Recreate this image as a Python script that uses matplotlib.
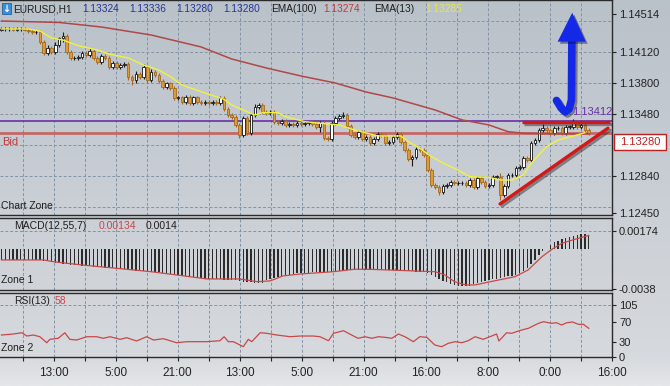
import numpy as np
import matplotlib.pyplot as plt
from matplotlib import patheffects as pe
from matplotlib.colors import LinearSegmentedColormap
from matplotlib.patches import Polygon, Rectangle

plt.rcParams['font.family'] = ['Liberation Sans', 'DejaVu Sans']

# ---- price data (EURUSD, H1) ----
first_open = 1.14356
closes = [
    1.14361, 1.14361, 1.14366, 1.14356, 1.14361, 1.14366, 1.14356, 1.14341, 1.14327, 1.14333,
    1.14230, 1.14112, 1.14164, 1.14123, 1.14195, 1.14263, 1.14292, 1.14126, 1.14061, 1.14064,
    1.14074, 1.14109, 1.14092, 1.14133, 1.14057, 1.14022, 1.14084, 1.14057, 1.13970, 1.14006,
    1.13967, 1.13988, 1.14001, 1.13867, 1.13832, 1.13892, 1.13867, 1.13964, 1.13832, 1.13912,
    1.13884, 1.13825, 1.13763, 1.13796, 1.13749, 1.13646, 1.13651, 1.13607, 1.13659, 1.13597,
    1.13651, 1.13607, 1.13591, 1.13607, 1.13597, 1.13607, 1.13591, 1.13643, 1.13529, 1.13469,
    1.13446, 1.13366, 1.13262, 1.13435, 1.13280, 1.13469, 1.13556, 1.13573, 1.13504, 1.13493,
    1.13504, 1.13400, 1.13383, 1.13407, 1.13366, 1.13376, 1.13366, 1.13390, 1.13376, 1.13383,
    1.13392, 1.13376, 1.13348, 1.13383, 1.13228, 1.13217, 1.13383, 1.13435, 1.13459, 1.13473,
    1.13355, 1.13262, 1.13244, 1.13296, 1.13217, 1.13238, 1.13176, 1.13221, 1.13272, 1.13262,
    1.13176, 1.13190, 1.13238, 1.13272, 1.13193, 1.13107, 1.13010, 1.13034, 1.13114, 1.13107,
    1.13055, 1.12899, 1.12744, 1.12726, 1.12674, 1.12733, 1.12744, 1.12775, 1.12761, 1.12761,
    1.12761, 1.12744, 1.12795, 1.12726, 1.12813, 1.12778, 1.12733, 1.12744, 1.12830, 1.12830,
    1.12640, 1.12733, 1.12847, 1.12847, 1.12923, 1.12930, 1.13020, 1.13003, 1.13176, 1.13210,
    1.13314, 1.13338, 1.13314, 1.13283, 1.13332, 1.13332, 1.13280, 1.13348, 1.13348, 1.13400,
    1.13348, 1.13366, 1.13314, 1.13280,
]
# wick lengths above / below the body, in pips
upper_wick = [
    2, 2, 2, 2, 2, 2, 2, 2, 2, 2, 2, 2, 3, 2, 3, 2, 4, 2, 2, 2,
    2, 2, 2, 3, 2, 2, 2, 2, 2, 2, 2, 2, 2, 2, 2, 3, 2, 3, 2, 3,
    2, 2, 2, 2, 2, 2, 2, 2, 2, 2, 2, 2, 2, 2, 2, 2, 2, 2, 2, 2,
    2, 2, 2, 2, 2, 2, 3, 2, 2, 2, 2, 2, 2, 2, 2, 2, 2, 2, 2, 2,
    2, 2, 2, 2, 2, 2, 2, 2, 2, 3, 2, 2, 2, 2, 2, 2, 2, 2, 2, 2,
    2, 2, 2, 2, 2, 2, 2, 2, 2, 2, 2, 2, 2, 2, 2, 2, 2, 2, 2, 2,
    2, 2, 2, 2, 2, 2, 2, 2, 2, 2, 4, 2, 2, 2, 2, 2, 2, 2, 2, 2,
    2, 4, 2, 2, 2, 2, 2, 2, 2, 3, 2, 2, 2, 2,
]
lower_wick = [
    2, 2, 2, 2, 2, 2, 2, 2, 2, 2, 2, 2, 2, 2, 2, 2, 4, 2, 2, 2,
    2, 2, 2, 2, 2, 2, 2, 2, 2, 2, 2, 2, 2, 3, 5, 3, 2, 2, 3, 2,
    2, 2, 2, 2, 2, 2, 2, 2, 2, 2, 2, 2, 2, 2, 2, 2, 2, 2, 2, 2,
    2, 2, 3, 2, 2, 2, 2, 2, 2, 2, 2, 2, 2, 2, 2, 2, 2, 2, 2, 2,
    2, 2, 2, 5, 2, 2, 2, 2, 2, 2, 2, 2, 2, 2, 2, 2, 2, 2, 2, 2,
    2, 2, 2, 2, 2, 2, 2, 7, 2, 2, 2, 2, 2, 2, 3, 2, 2, 2, 2, 2,
    2, 2, 2, 2, 2, 2, 2, 2, 2, 2, 5, 2, 2, 2, 2, 2, 2, 2, 2, 2,
    2, 2, 2, 2, 2, 2, 2, 2, 2, 2, 2, 2, 2, 2,
]
PIP = 0.0001

ema100_x = [0, 15, 26, 39, 52, 60, 69, 78, 87, 95, 102, 113, 120, 127, 132, 136, 145, 153]
ema100_y = [1.14444, 1.14429, 1.14382, 1.14299, 1.14175, 1.14050, 1.13957, 1.13874, 1.13801,
            1.13708, 1.13646, 1.13521, 1.13418, 1.13366, 1.13296, 1.13280, 1.13273, 1.13274]

ema13_x = [0, 7, 10, 13, 16, 20, 25, 28, 33, 37, 41, 44, 47, 52, 56, 58, 60, 64, 66, 68,
           72, 74, 79, 83, 88, 92, 98, 104, 106, 109, 112, 116, 118, 122, 127, 130, 133, 136,
           138, 142, 145, 149, 152]
ema13_y = [1.14361, 1.14361, 1.14341, 1.14268, 1.14247, 1.14188, 1.14144, 1.14102, 1.14061,
           1.13988, 1.13936, 1.13867, 1.13781, 1.13711, 1.13659, 1.13632, 1.13573, 1.13504,
           1.13469, 1.13493, 1.13493, 1.13452, 1.13400, 1.13383, 1.13366, 1.13314, 1.13252,
           1.13252, 1.13193, 1.13124, 1.13037, 1.12951, 1.12917, 1.12830, 1.12823, 1.12795,
           1.12795, 1.12847, 1.12969, 1.13141, 1.13210, 1.13252, 1.13285]

bid = 1.13280
level_purple = 1.13412

price_ticks = [1.14514, 1.14120, 1.13800, 1.13480, 1.12840, 1.12450]
price_grid = [1.14440, 1.14120, 1.13800, 1.13480, 1.13160, 1.12840, 1.12520]

# hand-drawn annotations (bar index, price)
trend_h_x, trend_h_y = [135.5, 158.5], [1.13400, 1.13400]
trend_d_x, trend_d_y = [129.9, 158.0], [1.12547, 1.13332]
arrow_x = [148.6, 148.5, 147.9, 146.9, 145.8, 144.6]
arrow_y = [1.14240, 1.13625, 1.13532, 1.13501, 1.13542, 1.13620]
arrow_head_x = [144.9, 148.7, 152.2]
arrow_head_y = [1.14230, 1.14530, 1.14230]

# ---- MACD(12,55,7) ----
macd_hist = [
    -0.00103, -0.00103, -0.00104, -0.00103, -0.00102, -0.00103, -0.00104, -0.00104, -0.00105, -0.00105,
    -0.00107, -0.00112, -0.00117, -0.00122, -0.00128, -0.00134, -0.00138, -0.00145, -0.00148, -0.00152,
    -0.00156, -0.00160, -0.00163, -0.00166, -0.00169, -0.00172, -0.00175, -0.00177, -0.00180, -0.00182,
    -0.00184, -0.00188, -0.00193, -0.00198, -0.00205, -0.00208, -0.00211, -0.00213, -0.00216, -0.00217,
    -0.00221, -0.00224, -0.00228, -0.00232, -0.00236, -0.00242, -0.00248, -0.00254, -0.00260, -0.00266,
    -0.00271, -0.00276, -0.00281, -0.00283, -0.00285, -0.00288, -0.00290, -0.00292, -0.00294, -0.00295,
    -0.00297, -0.00302, -0.00308, -0.00313, -0.00317, -0.00321, -0.00323, -0.00323, -0.00322, -0.00300,
    -0.00285, -0.00274, -0.00266, -0.00258, -0.00250, -0.00244, -0.00238, -0.00234, -0.00231, -0.00228,
    -0.00225, -0.00222, -0.00219, -0.00217, -0.00217, -0.00217, -0.00216, -0.00216, -0.00212, -0.00208,
    -0.00204, -0.00201, -0.00200, -0.00200, -0.00200, -0.00200, -0.00200, -0.00200, -0.00199, -0.00199,
    -0.00200, -0.00200, -0.00200, -0.00201, -0.00202, -0.00204, -0.00207, -0.00211, -0.00215, -0.00219,
    -0.00224, -0.00229, -0.00245, -0.00265, -0.00285, -0.00305, -0.00320, -0.00335, -0.00347, -0.00355,
    -0.00356, -0.00356, -0.00352, -0.00340, -0.00328, -0.00316, -0.00305, -0.00296, -0.00290, -0.00285,
    -0.00280, -0.00271, -0.00262, -0.00254, -0.00246, -0.00228, -0.00208, -0.00180, -0.00140, -0.00103,
    -0.00055, -0.00020, 0.00005, 0.00045, 0.00070, 0.00085, 0.00095, 0.00108, 0.00120, 0.00130,
    0.00140, 0.00147, 0.00150, 0.00138,
]
macd_sig_x = [0, 11, 13.5, 21, 30, 39, 47, 53.5, 62, 66.6, 70, 73.3, 77.8, 86.4, 92, 95.5, 113,
              115.5, 118, 121, 123.4, 128.6, 133.8, 137.2, 140.8, 143.4, 146, 149.4, 153]
macd_sig_y = [-0.00103, -0.00103, -0.00120, -0.00152, -0.00184, -0.00217, -0.00255, -0.00287,
              -0.00287, -0.00313, -0.00306, -0.00258, -0.00239, -0.00217, -0.00193, -0.00193,
              -0.00217, -0.00248, -0.00313, -0.00345, -0.00345, -0.00304, -0.00265, -0.00200,
              -0.00072, 0.0, 0.00058, 0.00097, 0.00134]

# ---- RSI(13) ----
rsi_x = [0, 3.1, 5.3, 6.6, 8.3, 10, 11.8, 12.6, 14.8, 16.5, 17.8, 19.6, 22.2, 24.8, 26.5, 28.3,
         30.9, 32.6, 35.2, 37.8, 39.6, 42.2, 45.6, 48.3, 50.9, 53.5, 56.9, 58, 59.1, 60.4, 63,
         64.3, 65.2, 67.4, 69.1, 71.7, 75.2, 77.8, 81.2, 83, 85.2, 86.5, 89.1, 91.2, 92.9, 94.7,
         96.5, 98.2, 99.9, 101.7, 103.4, 105.1, 107.3, 109, 110.8, 112.9, 114.7, 116.4, 118.2,
         119.9, 121.6, 123.4, 125.5, 127.7, 129, 129.6, 131.6, 132.9, 135.5, 137.3, 139.9, 141.2,
         143.3, 144.6, 145.9, 147.3, 148.8, 150.3, 151.6, 153]
rsi_v = [44.1, 46.1, 48.7, 42.0, 44.1, 40.6, 28.4, 35.3, 37.4, 48.7, 35.3, 33.9, 40.6, 40.6, 37.4,
         40.6, 35.3, 38.6, 31.9, 40.6, 33.9, 36.6, 28.4, 30.5, 30.5, 30.5, 32.5, 40.6, 30.5, 30.5,
         20.3, 35.3, 30.5, 48.7, 47.5, 44.1, 40.6, 42.0, 42.0, 40.6, 32.5, 47.5, 52.8, 44.1, 37.4,
         40.6, 37.4, 40.6, 39.4, 37.4, 46.1, 40.6, 30.5, 40.6, 39.4, 23.8, 20.3, 27.2, 30.5, 28.4,
         32.5, 40.6, 35.3, 42.0, 46.1, 31.9, 48.7, 47.5, 54.2, 57.7, 67.8, 71.1, 67.8, 69.1, 64.4,
         69.1, 70.5, 65.8, 65.8, 57.7]

time_labels = ['13:00', '5:00', '21:00', '13:00', '5:00', '21:00', '16:00', '8:00', '0:00', '16:00']

# ---- layout helpers (figure pixels) ----
W, H = 670, 386
def fx(px):
    return px / W
def fy(py):
    return 1 - py / H

fig = plt.figure(figsize=(W / 100, H / 100), dpi=100)

bg = fig.add_axes([0, 0, 1, 1], zorder=-10)
cmap = LinearSegmentedColormap.from_list(
    'bg', [(0, '#b9c1c9'), (0.55, '#cbd0d6'), (0.92, '#d6d9dd'), (1, '#e4e6e8')])
bg.imshow(np.linspace(0, 1, 256).reshape(-1, 1), aspect='auto', cmap=cmap, extent=[0, 1, 0, 1])
bg.set_axis_off()

XLIM = (-0.39, 159.06)
grid_x = 5.52 + 8.077 * np.arange(20)

ax = fig.add_axes([0, fy(215), fx(612), 215 / H])
ax_m = fig.add_axes([0, fy(290), fx(612), 72 / H])
ax_r = fig.add_axes([0, fy(357), fx(612), 64 / H])
grid_style = dict(color='#8494a5', lw=0.7, ls=(0, (3, 2)), zorder=0)
for a in (ax, ax_m, ax_r):
    a.set_facecolor('none')
    a.set_xlim(*XLIM)
    a.yaxis.tick_right()
    a.tick_params(axis='y', length=3, width=0.8, colors='#222222', labelsize=8, pad=2)
    a.tick_params(axis='x', bottom=False, labelbottom=False)
    a.spines['left'].set_visible(False)
    for s in ('top', 'bottom', 'right'):
        a.spines[s].set_color('#2a2a2a')
        a.spines[s].set_linewidth(1.0)
    for g in grid_x:
        a.axvline(g, **grid_style)

# ---- main price panel ----
closes = np.array(closes)
idx = np.arange(len(closes))
opens = np.r_[first_open, closes[:-1]]
up = closes >= opens
tops = np.maximum(opens, closes)
bots = np.minimum(opens, closes)
highs = tops + np.array(upper_wick) * PIP
lows = bots - np.array(lower_wick) * PIP
body = np.maximum(tops - bots, 0.00004)

ax.set_ylim(1.12432, 1.14662)
for g in price_grid:
    ax.axhline(g, **grid_style)
ax.axhline(level_purple, color='#6a2fa5', lw=1.2, zorder=2)
ax.axhline(bid, color='#c4504c', lw=2.0, alpha=0.8, zorder=2)

ax.vlines(idx[up], lows[up], highs[up], color='#1a1a1a', lw=0.8, zorder=3)
ax.vlines(idx[~up], lows[~up], highs[~up], color='#a8691c', lw=0.8, zorder=3)
ax.bar(idx[up], body[up], bottom=bots[up], width=0.68, color='white',
       edgecolor='#111111', lw=0.6, zorder=4)
ax.bar(idx[~up], body[~up], bottom=bots[~up], width=0.68, color='#dc9a38',
       edgecolor='#a8691c', lw=0.6, zorder=4)

ax.plot(ema100_x, ema100_y, color='#b04848', lw=1.1, zorder=5)
ax.plot(ema13_x, ema13_y, color='#f2f23c', lw=1.0, zorder=5)

ax.set_yticks(price_ticks)
ax.set_yticklabels([f'{v:.5f}' for v in price_ticks])

shadow = [pe.SimpleLineShadow(offset=(1.5, -1.5), shadow_color='#222222', alpha=0.45), pe.Normal()]
ax.plot(trend_h_x, trend_h_y, color='#d41818', lw=2.4, solid_capstyle='butt',
        path_effects=shadow, zorder=7, clip_on=False)
ax.plot(trend_d_x, trend_d_y, color='#d41818', lw=2.4, solid_capstyle='round',
        path_effects=shadow, zorder=7, clip_on=False)
ax.plot(arrow_x, arrow_y, color='#1428e8', lw=5.5, solid_capstyle='round',
        solid_joinstyle='round', path_effects=shadow, zorder=8)
head = Polygon(list(zip(arrow_head_x, arrow_head_y)), closed=True, fc='#1428e8', ec='none',
               zorder=8, path_effects=[pe.SimplePatchShadow(offset=(1.5, -1.5), alpha=0.45),
                                       pe.Normal()])
ax.add_patch(head)

# ---- MACD panel ----
ax_m.set_ylim(-0.00394, 0.00303)
ax_m.axhline(0.00174, **grid_style)
ax_m.bar(idx, macd_hist, width=0.35, color='#2b2b2b', zorder=3)
ax_m.plot(macd_sig_x, macd_sig_y, color='#c84848', lw=0.9, zorder=4)
ax_m.set_yticks([0.00174, -0.0038])
ax_m.set_yticklabels(['0.00174', '-0.0038'])

# ---- RSI panel ----
ax_r.set_ylim(-0.6, 129.4)
ax_r.axhline(105, **grid_style)
ax_r.plot(rsi_x, rsi_v, color='#c84848', lw=0.9, zorder=4)
ax_r.set_yticks([105, 70, 30, 0])
ax_r.set_xticks(grid_x[1::2])
ax_r.set_xticks(grid_x[0::2], minor=True)
ax_r.set_xticklabels(time_labels, family=['Liberation Sans Narrow', 'Liberation Sans'])
ax_r.tick_params(axis='x', which='both', bottom=True, labelbottom=True, length=3, width=0.8,
                 colors='#222222', labelsize=8.5, pad=4)

# ---- texts ----
def ftext(px, py, s, color='#1e1e1e', size=7.3, **kw):
    fig.text(fx(px), fy(py), s, color=color, fontsize=size, va='center', ha='left', **kw)

fig.add_artist(Rectangle((fx(2), fy(14)), 9 / W, 11 / H, transform=fig.transFigure,
                         fc='#3b8fd8', ec='#2a5f9a', lw=0.6))
fig.text(fx(6.5), fy(8.5), '\u2193', color='white', fontsize=7, ha='center', va='center',
         family='DejaVu Sans', fontweight='bold')
header = [('EURUSD,H1', 13, '#1e1e1e'), ('1.13324', 82, '#27359a'), ('1.13336', 129, '#27359a'),
          ('1.13280', 176, '#27359a'), ('1.13280', 223, '#27359a'), ('EMA(100)', 271, '#1e1e1e'),
          ('1.13274', 323, '#c23b3b'), ('EMA(13)', 374, '#1e1e1e'), ('1.13285', 425, '#e8e83c')]
for s, px, c in header:
    ftext(px, 9, s, color=c)

ftext(2, 142, 'Bid', color='#c23b3b', size=8)
ftext(1, 206, 'Chart Zone', size=7.5)
ftext(572, 112, '1.13412', color='#6a2fa5', size=8)
ftext(14, 226, 'MACD(12,55,7)', size=7.5)
ftext(99, 226, '0.00134', color='#c84848', size=7.5)
ftext(146, 226, '0.0014', size=7.5)
ftext(1, 280, 'Zone 1', size=7.5)
ftext(14, 301, 'RSI(13)', size=7.5)
ftext(55, 301, '58', color='#c84848', size=7.5)
ftext(1, 348, 'Zone 2', size=7.5)

fig.add_artist(Rectangle((fx(614), fy(150)), 52 / W, 16 / H, transform=fig.transFigure,
                         fc='white', ec='#c02020', lw=1.0))
fig.text(fx(640), fy(142), '1.13280', color='#c02020', fontsize=8, ha='center', va='center')

fig.savefig('out.png', dpi=100)
